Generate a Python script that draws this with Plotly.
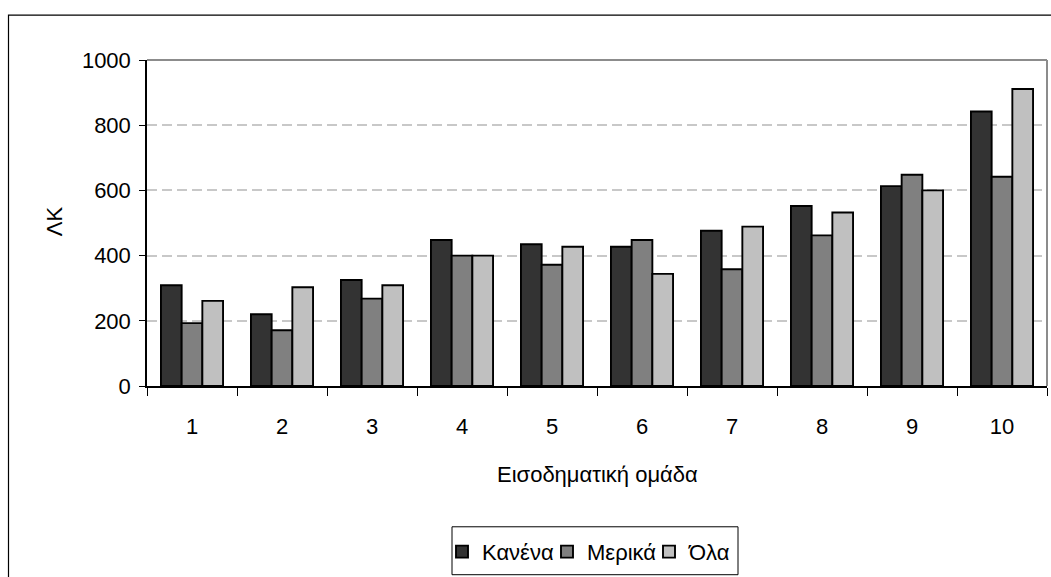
import plotly.graph_objects as go

# Income groups (x categories)
groups = ["1", "2", "3", "4", "5", "6", "7", "8", "9", "10"]

# Values per series
kanena = [309, 220, 325, 448, 435, 427, 476, 552, 613, 842]
merika = [193, 171, 268, 400, 372, 448, 358, 462, 648, 642]
ola = [261, 303, 309, 400, 427, 344, 489, 532, 600, 911]

series_names = ["Κανένα", "Μερικά", "Όλα"]
series_values = [kanena, merika, ola]
series_colors = ["#333333", "#808080", "#c0c0c0"]
# horizontal room taken by each legend entry's label
legend_widths = [60, 57, 40]

FONT = "Liberation Sans, Arial, sans-serif"

fig = go.Figure()
for name, vals, col, lw in zip(series_names, series_values, series_colors, legend_widths):
    fig.add_trace(go.Bar(
        x=groups, y=vals, name=name, legendwidth=lw,
        marker=dict(color=col, line=dict(color="#000000", width=1.9)),
    ))

W, H = 1051, 577
L, R, T, B = 147, 4, 59.5, 191
pw = W - L - R
ph = H - T - B


def px_x(x):
    return (x - L) / pw


def px_y(y):
    return (H - B - y) / ph


fig.update_layout(
    width=W, height=H,
    margin=dict(l=L, r=R, t=T, b=B, pad=0),
    paper_bgcolor="white", plot_bgcolor="white",
    font=dict(family=FONT, size=22, color="#000000"),
    barmode="group", bargap=0.31, bargroupgap=0,
    showlegend=True,
    legend=dict(
        orientation="h", x=px_x(442), xanchor="left",
        y=px_y(531), yanchor="top",
        borderwidth=0, bgcolor="rgba(0,0,0,0)",
        font=dict(family=FONT, size=22, color="#000000"),
        itemwidth=30, tracegroupgap=0,
    ),
    xaxis=dict(
        type="category", showgrid=False, zeroline=False,
        showline=True, linecolor="#000000", linewidth=1.5,
        ticks="outside", tickson="boundaries", ticklen=8,
        tickcolor="#000000", tickwidth=1,
        tickfont=dict(family=FONT, size=22), ticklabelstandoff=20,
    ),
    yaxis=dict(
        range=[0, 1000], dtick=200, tick0=0,
        showgrid=True, gridcolor="#c8c8c8", gridwidth=1.5, griddash="10px,5px",
        zeroline=False, showline=True, linecolor="#000000", linewidth=1.5,
        ticks="outside", ticklen=6, tickcolor="#000000", tickwidth=1,
        tickfont=dict(family=FONT, size=22), ticklabelstandoff=4,
    ),
    annotations=[
        dict(text="Εισοδηματική ομάδα", xref="paper", yref="paper",
             x=0.5, y=px_y(475), xanchor="center", yanchor="middle",
             showarrow=False, font=dict(family=FONT, size=22)),
        dict(text="ΛΚ", xref="paper", yref="paper", textangle=-90,
             x=px_x(54), y=px_y(221), xanchor="center", yanchor="middle",
             showarrow=False, font=dict(family=FONT, size=22)),
    ],
    shapes=[
        # gray frame on the top and right of the plotting area
        dict(type="line", xref="paper", yref="paper", x0=0, x1=1, y0=1, y1=1,
             line=dict(color="#8c8c8c", width=2)),
        dict(type="line", xref="paper", yref="paper", x0=1, x1=1, y0=0, y1=1,
             line=dict(color="#8c8c8c", width=2)),
        # outer chart border
        dict(type="rect", xref="paper", yref="paper",
             x0=px_x(8.5), x1=px_x(1060), y0=px_y(600), y1=px_y(14.5),
             line=dict(color="#000000", width=1.2), layer="below"),
        # legend frame
        dict(type="rect", xref="paper", yref="paper",
             x0=px_x(452), x1=px_x(738), y0=px_y(575), y1=px_y(527),
             line=dict(color="#000000", width=1), layer="below"),
    ],
)

fig.write_html("out.html")
